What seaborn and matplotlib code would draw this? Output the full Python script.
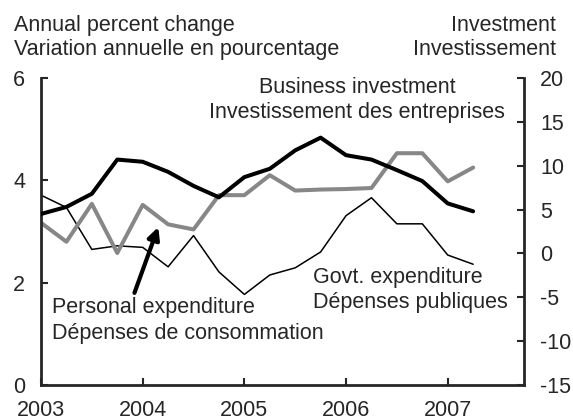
import matplotlib
matplotlib.use("Agg")
import matplotlib.pyplot as plt
import seaborn as sns
import pandas as pd

# ---- data ----
quarters = ["2003Q1", "2003Q2", "2003Q3", "2003Q4",
            "2004Q1", "2004Q2", "2004Q3", "2004Q4",
            "2005Q1", "2005Q2", "2005Q3", "2005Q4",
            "2006Q1", "2006Q2", "2006Q3", "2006Q4",
            "2007Q1", "2007Q2"]
business_investment = [4.5, 5.3, 6.8, 10.7, 10.45, 9.3, 7.7, 6.4, 8.7,
                       9.65, 11.75, 13.2, 11.2, 10.7, 9.5, 8.25, 5.7, 4.8]
personal_expenditure = [3.17, 2.80, 3.54, 2.58, 3.52, 3.14, 3.04, 3.71, 3.71,
                        4.10, 3.80, 3.82, 3.83, 3.85, 4.53, 4.53, 3.98, 4.25]
govt_expenditure = [3.71, 3.47, 2.65, 2.72, 2.69, 2.31, 2.92, 2.21, 1.77,
                    2.15, 2.29, 2.60, 3.31, 3.66, 3.15, 3.15, 2.54, 2.36]
year_ticks = [2003, 2004, 2005, 2006, 2007]
left_ticks = [0, 2, 4, 6]
right_ticks = [-15, -10, -5, 0, 5, 10, 15, 20]

df = pd.DataFrame({
    "quarter": quarters,
    "business": business_investment,
    "personal": personal_expenditure,
    "govt": govt_expenditure,
})
df["t"] = [int(q[:4]) + (int(q[-1]) - 1) / 4 for q in df["quarter"]]

sns.set_style("ticks")
plt.rcParams["font.family"] = ["Liberation Sans", "DejaVu Sans"]
FS = 15.5
GRAY = "#878787"

W, H = 573, 420
fig = plt.figure(figsize=(W / 100, H / 100), dpi=100)
ax = fig.add_axes([41 / W, 1 - 385 / H, (524 - 41) / W, (385 - 78) / H])
ax2 = ax.twinx()

sns.lineplot(data=df, x="t", y="govt", ax=ax, color="black", lw=1.1)
sns.lineplot(data=df, x="t", y="personal", ax=ax, color=GRAY, lw=2.9)
sns.lineplot(data=df, x="t", y="business", ax=ax2, color="black", lw=2.9)

ax.set_xlim(2003, 2007.75)
ax.set_ylim(0, 6)
ax2.set_ylim(-15, 20)
ax.set_xticks(year_ticks)
ax.set_xticklabels([str(y) for y in year_ticks])
ax.set_yticks(left_ticks)
ax.set_yticklabels([str(v) for v in left_ticks])
ax2.set_yticks(right_ticks)
ax2.set_yticklabels([str(v) for v in right_ticks])
for a in (ax, ax2):
    a.set_xlabel("")
    a.set_ylabel("")
    a.spines["top"].set_visible(False)
    for s in a.spines.values():
        s.set_linewidth(2.0)
ax.spines["right"].set_visible(False)
ax2.spines["left"].set_visible(False)
ax2.spines["bottom"].set_visible(False)

ax.tick_params(axis="y", direction="in", length=5, width=1.5, labelsize=FS, pad=11.5)
ax.tick_params(axis="x", direction="in", length=5, width=1.5, labelsize=FS, pad=10.5)
ax2.tick_params(axis="y", direction="in", length=5, width=1.5, labelsize=FS, pad=11.5)

def ftext(x, y, s, ha="left"):
    fig.text(x / W, 1 - y / H, s, ha=ha, va="baseline", fontsize=FS)

ftext(14, 30.7, "Annual percent change")
ftext(14, 55, "Variation annuelle en pourcentage")
ftext(556, 30.7, "Investment", ha="right")
ftext(556, 55, "Investissement", ha="right")
ftext(357, 93.3, "Business investment", ha="center")
ftext(357, 118.3, "Investissement des entreprises", ha="center")
ftext(313, 283.3, "Govt. expenditure")
ftext(313, 308.3, "Dépenses publiques")
ftext(52, 313.3, "Personal expenditure")
ftext(52, 339.3, "Dépenses de consommation")

ax.annotate("", xy=(2004.153, 3.086), xytext=(2003.919, 1.80),
            arrowprops=dict(arrowstyle="-|>,head_length=0.7,head_width=0.35",
                            color="black", lw=3.0, shrinkA=0, shrinkB=0))

fig.savefig("out.png", dpi=100)
